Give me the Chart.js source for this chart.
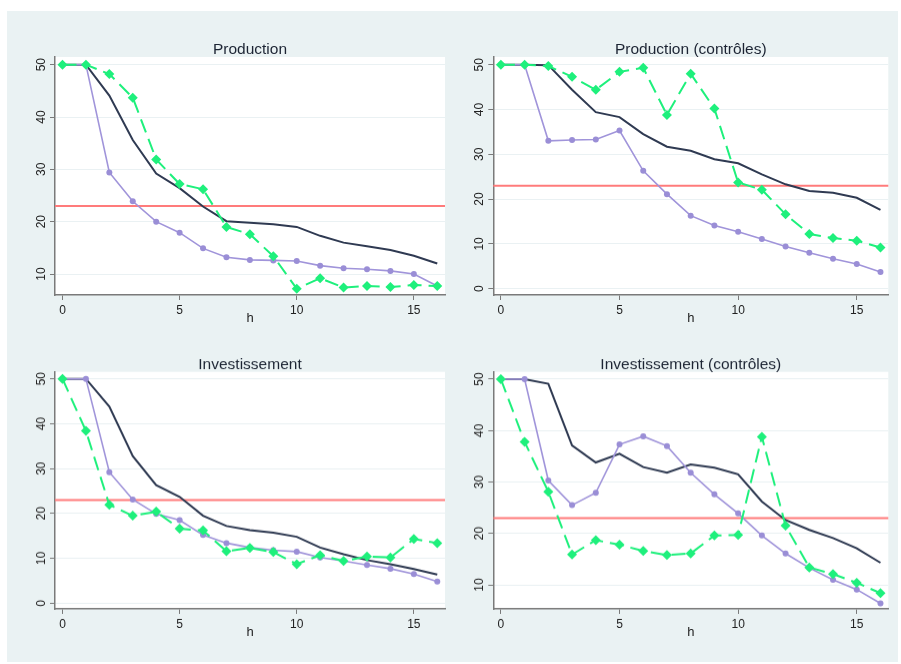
<!DOCTYPE html>
<html>

<head>
    <meta charset="UTF-8">
    <title>Production / Investissement</title>
    <script src="https://cdn.jsdelivr.net/npm/chart.js"></script>
    <style>
        html, body { margin: 0; padding: 0; background: #ffffff; }
        #page { position: absolute; left: 7px; top: 11px; width: 891px; height: 651px; background: #eaf2f3; }
        canvas { position: absolute; }
    </style>
</head>

<body>
    <div id="page"></div>
    <canvas id="c1"></canvas>
    <canvas id="c2"></canvas>
    <canvas id="c3"></canvas>
    <canvas id="c4"></canvas>

    <script>
        // horizons h = 0..16
        var horizons = [0, 1, 2, 3, 4, 5, 6, 7, 8, 9, 10, 11, 12, 13, 14, 15, 16];
        var xTicks = [0, 5, 10, 15];
        var refValue = 23;

        // Production
        var prodDark = [50, 50, 44.1, 35.6, 29.2, 26.4, 22.9, 20.1, 19.8, 19.5, 19.0, 17.3, 16.0, 15.3, 14.6, 13.5, 12.0];
        var prodLav = [50, 50, 29.4, 23.9, 20.0, 17.9, 14.9, 13.2, 12.7, 12.6, 12.5, 11.6, 11.1, 10.9, 10.6, 10.0, 7.7];
        var prodGreen = [50, 50, 48.2, 43.7, 31.9, 27.2, 26.2, 19.0, 17.6, 13.4, 7.2, 9.2, 7.4, 7.7, 7.5, 7.9, 7.7];

        // Production (contrôles)
        var prodCDark = [50, 50, 49.9, 44.4, 39.4, 38.3, 34.5, 31.7, 30.8, 28.9, 28.0, 25.5, 23.3, 21.8, 21.4, 20.3, 17.6];
        var prodCLav = [50, 50, 33.0, 33.2, 33.3, 35.3, 26.3, 21.1, 16.3, 14.1, 12.7, 11.1, 9.4, 8.0, 6.7, 5.5, 3.7];
        var prodCGreen = [50, 50, 49.7, 47.3, 44.4, 48.4, 49.3, 38.8, 48.0, 40.2, 23.7, 22.1, 16.6, 12.2, 11.3, 10.7, 9.2];

        // Investissement
        var invDark = [50, 50, 43.8, 32.8, 26.3, 23.7, 19.5, 17.2, 16.3, 15.7, 14.8, 12.4, 10.9, 9.6, 8.7, 7.6, 6.4];
        var invLav = [50, 50, 29.2, 23.1, 19.9, 18.5, 15.2, 13.4, 12.4, 11.8, 11.5, 10.2, 9.4, 8.5, 7.7, 6.5, 4.8];
        var invGreen = [50, 38.4, 21.9, 19.5, 20.4, 16.6, 16.2, 11.6, 12.3, 11.4, 8.7, 10.7, 9.4, 10.4, 10.2, 14.3, 13.4];

        // Investissement (contrôles)
        var invCDark = [50, 50, 49.1, 37.1, 33.8, 35.5, 32.9, 31.8, 33.4, 32.8, 31.5, 26.2, 22.6, 20.7, 19.1, 17.1, 14.3];
        var invCLav = [50, 50, 30.3, 25.5, 27.9, 37.3, 38.9, 37.0, 31.8, 27.6, 23.9, 19.6, 16.1, 13.3, 11.0, 9.1, 6.4];
        var invCGreen = [50, 37.8, 28.1, 15.9, 18.7, 17.8, 16.6, 15.8, 16.1, 19.6, 19.7, 38.8, 21.5, 13.4, 12.1, 10.4, 8.4];

        var yTicksA = [10, 20, 30, 40, 50];
        var yTicksB = [0, 10, 20, 30, 40, 50];

        var axisColor = '#7a7a7a';
        var textColor = '#222222';

        function pts(arr) {
            return arr.map(function (v, i) { return { x: horizons[i], y: v }; });
        }

        // white plot region, red reference line, rotated y labels, title
        var panelPlugin = {
            id: 'panel',
            beforeDraw: function (chart) {
                var a = chart.chartArea, ctx = chart.ctx;
                ctx.save();
                ctx.fillStyle = '#ffffff';
                ctx.fillRect(a.left, a.top, a.right - a.left, a.bottom - a.top);
                ctx.restore();
            },
            beforeDatasetsDraw: function (chart) {
                var a = chart.chartArea, ctx = chart.ctx;
                var y = chart.scales.y.getPixelForValue(refValue);
                ctx.save();
                ctx.strokeStyle = '#ff7b7b';
                ctx.lineWidth = 2;
                ctx.beginPath();
                ctx.moveTo(a.left, y);
                ctx.lineTo(a.right, y);
                ctx.stroke();
                ctx.restore();
            },
            afterDraw: function (chart) {
                var a = chart.chartArea, ctx = chart.ctx;
                var ys = chart.scales.y;
                ctx.save();
                ctx.fillStyle = textColor;
                ctx.font = '12px "Liberation Sans", Arial, sans-serif';
                ctx.textAlign = 'center';
                ctx.textBaseline = 'middle';
                ys.ticks.forEach(function (t) {
                    var py = ys.getPixelForValue(t.value);
                    ctx.save();
                    ctx.translate(a.left - 13.5, py);
                    ctx.rotate(-Math.PI / 2);
                    ctx.fillText(String(t.value), 0, 0);
                    ctx.restore();
                });
                ctx.font = '15.5px "Liberation Sans", Arial, sans-serif';
                ctx.textBaseline = 'alphabetic';
                ctx.fillStyle = '#1c2433';
                ctx.fillText(chart.options.plugins.panel.title, (a.left + a.right) / 2, a.top - 3);
                ctx.restore();
            }
        };

        function makeChart(id, box, title, dark, lav, green, yMin, yMax, yTicks) {
            var cv = document.getElementById(id);
            cv.style.left = box.left + 'px';
            cv.style.top = box.top + 'px';
            cv.style.width = box.width + 'px';
            cv.style.height = box.height + 'px';
            cv.width = box.width;
            cv.height = box.height;

            return new Chart(cv, {
                type: 'line',
                data: {
                    datasets: [{
                        data: pts(dark),
                        order: 3,
                        borderColor: '#2f3a52',
                        borderWidth: 2,
                        pointRadius: 0,
                        tension: 0
                    }, {
                        data: pts(lav),
                        order: 2,
                        borderColor: '#a094da',
                        backgroundColor: '#9a8ed6',
                        borderWidth: 1.6,
                        pointRadius: 3,
                        pointBorderWidth: 0,
                        tension: 0
                    }, {
                        data: pts(green),
                        order: 1,
                        borderColor: '#1ef07c',
                        backgroundColor: '#1ef07c',
                        borderWidth: 2,
                        borderDash: [14, 7],
                        pointStyle: 'rectRot',
                        pointRadius: 5,
                        pointBorderWidth: 0,
                        tension: 0
                    }]
                },
                options: {
                    responsive: false,
                    animation: false,
                    events: [],
                    layout: { padding: { top: box.padTop, right: box.padRight, left: 0, bottom: 0 } },
                    plugins: {
                        legend: { display: false },
                        tooltip: { enabled: false },
                        title: { display: false },
                        panel: { title: title }
                    },
                    scales: {
                        x: {
                            type: 'linear',
                            min: -0.32,
                            max: 16.33,
                            afterBuildTicks: function (s) { s.ticks = xTicks.map(function (v) { return { value: v }; }); },
                            afterFit: function (s) { s.height = 35; s.paddingLeft = 0; s.paddingRight = 0; },
                            grid: { drawOnChartArea: false, tickLength: 5, tickColor: axisColor },
                            border: { color: axisColor, width: 1.5 },
                            ticks: {
                                color: textColor,
                                padding: 3,
                                maxRotation: 0,
                                font: { size: 12, family: '"Liberation Sans", Arial, sans-serif' }
                            },
                            title: {
                                display: true,
                                text: 'h',
                                color: textColor,
                                padding: { top: 0, bottom: 3.5 },
                                font: { size: 13, family: '"Liberation Sans", Arial, sans-serif' }
                            }
                        },
                        y: {
                            type: 'linear',
                            min: yMin,
                            max: yMax,
                            afterBuildTicks: function (s) { s.ticks = yTicks.map(function (v) { return { value: v }; }); },
                            afterFit: function (s) { s.width = box.axisW; s.paddingTop = 0; s.paddingBottom = 0; },
                            grid: { color: '#eaf1f3', lineWidth: 1, tickLength: 5, tickColor: axisColor },
                            border: { color: axisColor, width: 1.5 },
                            ticks: { display: false }
                        }
                    }
                },
                plugins: [panelPlugin]
            });
        }

        makeChart('c1', { left: 7, top: 11, width: 443, height: 319, padTop: 46, padRight: 0, axisW: 48 },
            'Production', prodDark, prodLav, prodGreen, 5.99, 51.47, yTicksA);
        makeChart('c2', { left: 450, top: 11, width: 448, height: 319, padTop: 46, padRight: 9.7, axisW: 43.3 },
            'Production (contrôles)', prodCDark, prodCLav, prodCGreen, -1.41, 51.72, yTicksB);
        makeChart('c3', { left: 7, top: 340, width: 443, height: 303.7, padTop: 31.7, padRight: 0, axisW: 48 },
            'Investissement', invDark, invLav, invGreen, -1.27, 51.56, yTicksB);
        makeChart('c4', { left: 450, top: 340, width: 448, height: 303.7, padTop: 31.7, padRight: 9.7, axisW: 43.3 },
            'Investissement (contrôles)', invCDark, invCLav, invCGreen, 5.33, 51.42, yTicksA);
    </script>
</body>

</html>
